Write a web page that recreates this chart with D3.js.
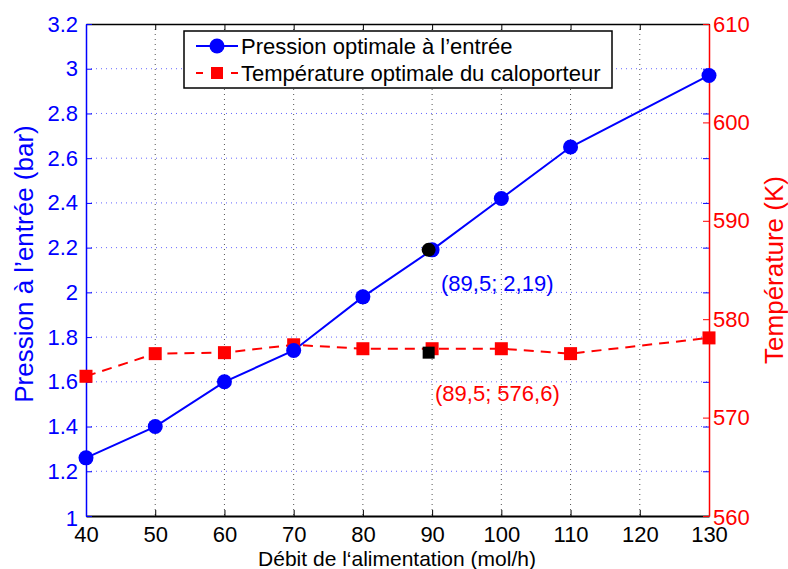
<!DOCTYPE html>
<html>
<head>
<meta charset="utf-8">
<script src="https://cdn.jsdelivr.net/npm/d3@7"></script>
<style>
  body { margin: 0; background: #fff; }
  svg { font-family: "Liberation Sans", Arial, sans-serif; }
</style>
</head>
<body>
<svg width="788" height="569"></svg>
<script>
// debit de l'alimentation (mol/h)
const debit = [40, 50, 60, 70, 80, 90, 100, 110, 130];
const pression = [1.26, 1.40, 1.60, 1.74, 1.98, 2.19, 2.42, 2.65, 2.97];
const temperature = [574.2, 576.5, 576.6, 577.4, 577.0, 577.0, 577.0, 576.5, 578.1];
const optimum = { debit: 89.5, pression: 2.19, temperature: 576.6 };

const xTicks = [40, 50, 60, 70, 80, 90, 100, 110, 120, 130];
const leftTicks = [1, 1.2, 1.4, 1.6, 1.8, 2, 2.2, 2.4, 2.6, 2.8, 3, 3.2];
const rightTicks = [560, 570, 580, 590, 600, 610];

const blue = "#0000ff", red = "#ff0000";
const m = { left: 86, right: 709, top: 24, bottom: 516 };

const svg = d3.select("svg");

const x = d3.scaleLinear().domain([40, 130]).range([m.left, m.right]);
const yL = d3.scaleLinear().domain([1, 3.2]).range([m.bottom, m.top]);
const yR = d3.scaleLinear().domain([560, 610]).range([m.bottom, m.top]);

// grid
svg.append("g").selectAll("line")
    .data(xTicks.slice(1, -1))
    .enter().append("line")
    .attr("x1", d => x(d)).attr("x2", d => x(d))
    .attr("y1", m.top).attr("y2", m.bottom)
    .attr("stroke", "#555").attr("stroke-width", 1)
    .attr("stroke-dasharray", "1,4");

svg.append("g").selectAll("line")
    .data(leftTicks.slice(1, -1))
    .enter().append("line")
    .attr("x1", m.left).attr("x2", m.right)
    .attr("y1", d => yL(d)).attr("y2", d => yL(d))
    .attr("stroke", "#6666ff").attr("stroke-width", 1)
    .attr("stroke-dasharray", "1,4");

// axes
const xAxis = svg.append("g").attr("transform", `translate(0,${m.bottom})`)
    .call(d3.axisBottom(x).tickValues(xTicks).tickSizeInner(-6).tickSizeOuter(0).tickPadding(10));
xAxis.select(".domain").attr("stroke", "#000").attr("stroke-width", 2);
xAxis.selectAll(".tick line").attr("stroke", "#000");
xAxis.selectAll("text").attr("font-size", 22).attr("fill", "#000");

const xTop = svg.append("g").attr("transform", `translate(0,${m.top})`)
    .call(d3.axisTop(x).tickValues(xTicks).tickSizeInner(-6).tickSizeOuter(0).tickFormat(""));
xTop.select(".domain").attr("stroke", "#000").attr("stroke-width", 1.5);

const leftAxis = svg.append("g").attr("transform", `translate(${m.left},0)`)
    .call(d3.axisLeft(yL).tickValues(leftTicks).tickSizeInner(-6).tickSizeOuter(0).tickPadding(8).tickFormat(d => String(d)));
leftAxis.select(".domain").attr("stroke", blue).attr("stroke-width", 1.5);
leftAxis.selectAll(".tick line").attr("stroke", blue);
leftAxis.selectAll("text").attr("font-size", 22).attr("fill", blue)
    .attr("dy", d => d === 1 ? "0.42em" : "0.32em");

const leftMirror = svg.append("g").attr("transform", `translate(${m.right},0)`)
    .call(d3.axisRight(yL).tickValues(leftTicks).tickSizeInner(-6).tickSizeOuter(0).tickFormat(""));
leftMirror.select(".domain").remove();
leftMirror.selectAll(".tick line").attr("stroke", blue);

const rightAxis = svg.append("g").attr("transform", `translate(${m.right},0)`)
    .call(d3.axisRight(yR).tickValues(rightTicks).tickSizeInner(-6).tickSizeOuter(0).tickPadding(4));
rightAxis.select(".domain").attr("stroke", red).attr("stroke-width", 1.5);
rightAxis.selectAll(".tick line").attr("stroke", red);
rightAxis.selectAll("text").attr("font-size", 22).attr("fill", red)
    .attr("dy", d => d === 560 ? "0.4em" : "0.32em");

// axis titles
svg.append("text")
    .attr("transform", `translate(33,264) rotate(-90)`)
    .attr("text-anchor", "middle")
    .attr("font-size", 26).attr("fill", blue)
    .text("Pression à l\u2019entrée (bar)");

svg.append("text")
    .attr("transform", `translate(783,270) rotate(-90)`)
    .attr("text-anchor", "middle")
    .attr("font-size", 26).attr("fill", red)
    .text("Température (K)");

svg.append("text")
    .attr("x", 397).attr("y", 566)
    .attr("text-anchor", "middle")
    .attr("font-size", 21).attr("fill", "#000")
    .text("Débit de l\u2018alimentation (mol/h)");

// series
const lineL = d3.line().x((d, i) => x(debit[i])).y(d => yL(d));
const lineR = d3.line().x((d, i) => x(debit[i])).y(d => yR(d));

svg.append("path").datum(temperature)
    .attr("d", lineR).attr("fill", "none")
    .attr("stroke", red).attr("stroke-width", 2)
    .attr("stroke-dasharray", "10,7");

svg.append("path").datum(pression)
    .attr("d", lineL).attr("fill", "none")
    .attr("stroke", blue).attr("stroke-width", 2);

svg.append("g").selectAll("rect")
    .data(temperature)
    .enter().append("rect")
    .attr("x", (d, i) => x(debit[i]) - 6.5)
    .attr("y", d => yR(d) - 6.5)
    .attr("width", 13).attr("height", 13)
    .attr("fill", red);

svg.append("g").selectAll("circle")
    .data(pression)
    .enter().append("circle")
    .attr("cx", (d, i) => x(debit[i]))
    .attr("cy", d => yL(d))
    .attr("r", 7.5)
    .attr("fill", blue);

// optimum point
svg.append("circle")
    .attr("cx", x(optimum.debit)).attr("cy", yL(optimum.pression))
    .attr("r", 7).attr("fill", "#000");
svg.append("rect")
    .attr("x", x(optimum.debit) - 6).attr("y", yR(optimum.temperature) - 6)
    .attr("width", 12).attr("height", 12).attr("fill", "#000");

svg.append("text")
    .attr("x", 441).attr("y", 291)
    .attr("font-size", 22).attr("fill", blue)
    .text("(89,5; 2,19)");
svg.append("text")
    .attr("x", 435).attr("y", 401)
    .attr("font-size", 22).attr("fill", red)
    .text("(89,5; 576,6)");

// legend
const lg = svg.append("g").attr("transform", "translate(184,31)");
lg.append("rect").attr("width", 428).attr("height", 57)
    .attr("fill", "#fff").attr("stroke", "#000").attr("stroke-width", 1.5);
lg.append("line").attr("x1", 12).attr("x2", 54).attr("y1", 15).attr("y2", 15)
    .attr("stroke", blue).attr("stroke-width", 2);
lg.append("circle").attr("cx", 33).attr("cy", 15).attr("r", 7.5).attr("fill", blue);
lg.append("text").attr("x", 57).attr("y", 15).attr("dy", "0.35em")
    .attr("font-size", 22).attr("fill", "#000")
    .text("Pression optimale à l\u2019entrée");
lg.append("line").attr("x1", 12).attr("x2", 54).attr("y1", 42).attr("y2", 42)
    .attr("stroke", red).attr("stroke-width", 2).attr("stroke-dasharray", "7,28");
lg.append("rect").attr("x", 27).attr("y", 36).attr("width", 12).attr("height", 12).attr("fill", red);
lg.append("text").attr("x", 57).attr("y", 42).attr("dy", "0.35em")
    .attr("font-size", 22).attr("fill", "#000")
    .text("Température optimale du caloporteur");
</script>
</body>
</html>
